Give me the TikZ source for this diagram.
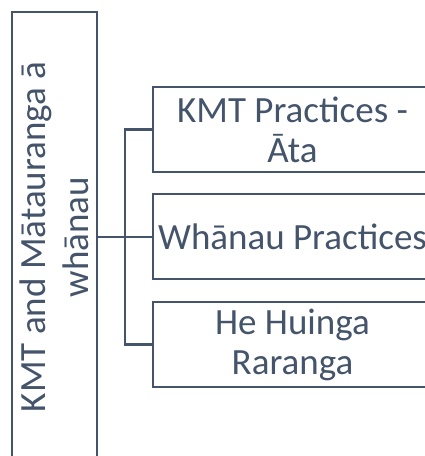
\documentclass[tikz,border=0pt]{standalone}
\usepackage{fontspec}
\setmainfont{Carlito}
\definecolor{ink}{HTML}{44546A}
\begin{document}
\begin{tikzpicture}[x=1pt,y=1pt,
  box/.style={draw=ink, line width=2.2pt, rectangle, inner sep=0pt},
  child/.style={box, minimum width=279pt, minimum height=85pt, align=center,
    font=\fontsize{37}{40}\selectfont, text=ink},
  link/.style={draw=ink, line width=2.2pt}]
\useasboundingbox (0,0) rectangle (425,456);
\clip (0,0) rectangle (425,456);
\node[box, minimum width=85pt, minimum height=450pt] (main) at (54.5,219) {};
\node[rotate=90, align=center, text=ink, inner sep=0pt,
  font=\fontsize{37}{43}\selectfont] (maintext) at (main.center) {KMT and Mātauranga ā\\whānau};
\node[child] (c1) at (292.5,326.5) {KMT Practices -\\Āta};
\node[child] (c2) at (292.5,219.5) {Whānau Practices};
\node[child] (c3) at (292.5,111.5) {He Huinga\\Raranga};
\coordinate (j) at (125,0);
\draw[link] (main.east) -- (main.east -| c2.west);
\draw[link] (c1.west) -- (c1.west -| j) -- (c3.west -| j) -- (c3.west);
\end{tikzpicture}
\end{document}
